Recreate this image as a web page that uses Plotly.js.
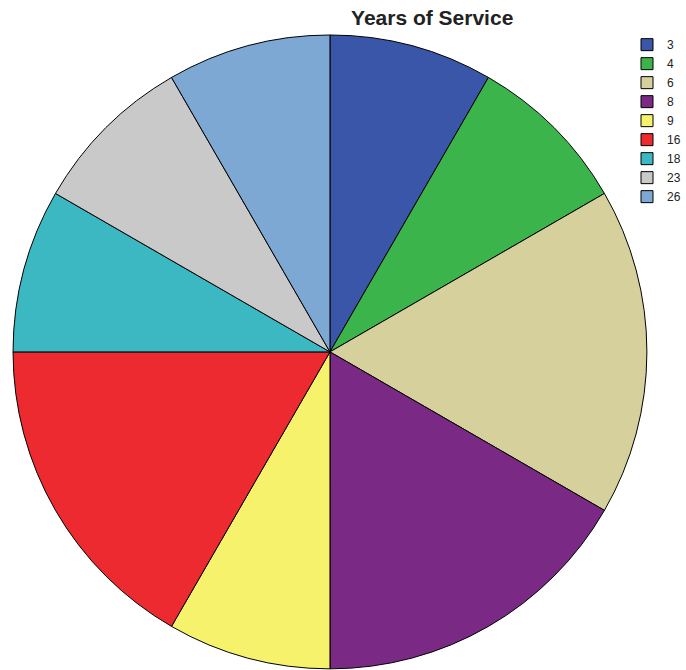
<!DOCTYPE html>
<html><head><meta charset="utf-8">
<script src="https://cdn.plot.ly/plotly-3.0.1.min.js"></script>
<style>body{margin:0;background:#fff}#chart{width:686px;height:670px}</style>
</head><body><div id="chart"></div>
<script>
const categories = ["3","4","6","8","9","16","18","23","26"];
const counts = [1,1,2,2,1,2,1,1,1];
const colors = ["#3a56a8","#3bb54b","#d6d19c","#7a2a85","#f7f26c","#ec2a30","#3bb8c1","#c9c9c9","#7ca8d3"];
Plotly.newPlot("chart", [{
  type: "pie", labels: categories, values: counts, sort: false,
  direction: "clockwise", rotation: 0, textinfo: "none", hoverinfo: "label+value",
  marker: {colors: colors, line: {color: "#000", width: 1}},
  domain: {x: [0.019, 0.943], y: [0.0015, 0.948]}
}], {
  width: 686, height: 670, margin: {l: 0, r: 0, t: 0, b: 0, autoexpand: false},
  paper_bgcolor: "#fff",
  title: {text: "<b>Years of Service</b>", x: 0.63, xanchor: "center", y: 0.973, yanchor: "middle",
    font: {family: "Liberation Sans, Arial", size: 21, color: "#222"}},
  legend: {x: 0.914, xanchor: "left", y: 0.955, yanchor: "top", font: {family: "Liberation Sans, Arial", size: 12, color: "#222"},
    itemwidth: 30, bgcolor: "rgba(0,0,0,0)"},
  showlegend: true
}, {displayModeBar: false, staticPlot: true});
</script></body></html>
